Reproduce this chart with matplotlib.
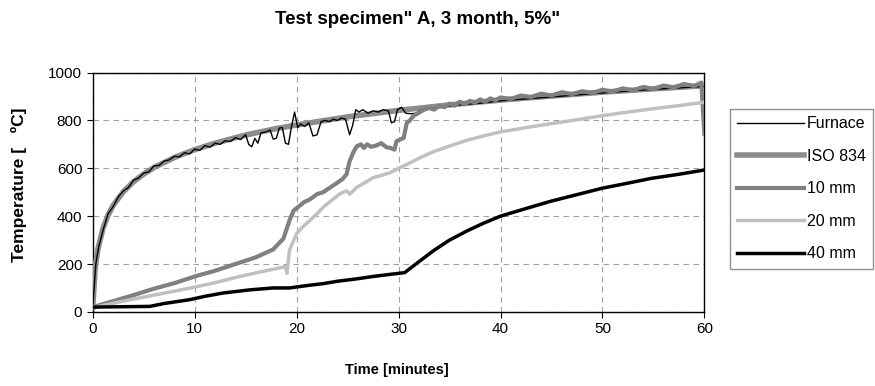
import numpy as np
import matplotlib
matplotlib.use("Agg")
import matplotlib.pyplot as plt

plt.rcParams['font.family'] = ['Liberation Sans', 'DejaVu Sans']

# ISO 834 standard curve
iso_t = [0, 0.25, 0.5, 1, 1.5, 2, 3, 4, 5, 6, 8, 10, 12, 15, 18, 20, 25, 30, 35, 40, 45, 50, 55, 60]
iso_T = [20, 190, 261, 349, 404, 445, 502, 544, 576, 603, 645, 678, 705, 739, 766, 781, 815, 842, 865, 885, 902, 918, 932, 945]

# furnace thermocouple
fur_t = [0, 0.3, 0.6, 1, 1.5, 2, 2.5, 3, 3.5, 4, 4.5, 5, 5.5, 6, 6.5, 7, 7.5, 8, 8.5, 9, 9.5,
         10, 10.5, 11, 11.5, 12, 12.5, 13, 13.5, 14, 14.5, 15, 15.3, 15.6, 15.9, 16.2, 16.5, 17,
         17.4, 17.7, 18, 18.3, 18.6, 18.9, 19.2, 19.5, 19.8, 20.1, 20.4, 20.8, 21.2, 21.6, 22,
         22.4, 22.8, 23.2, 23.6, 24, 24.4, 24.8, 25.2, 25.5, 25.8, 26.1, 26.5, 27, 27.5, 28, 28.5,
         29, 29.3, 29.6, 29.9, 30.3, 30.7, 31.2, 31.7, 32.2, 33, 34, 36, 38, 40, 45, 50, 55, 60]
fur_T = [20, 200, 275, 340, 410, 440, 480, 505, 520, 550, 560, 580, 585, 610, 612, 630, 635, 650, 648, 665, 660,
         680, 675, 695, 688, 705, 700, 715, 712, 728, 720, 740, 700, 690, 725, 705, 748, 752,
         760, 722, 725, 768, 770, 705, 700, 775, 835, 770, 785, 775, 790, 735, 740,
         795, 800, 795, 805, 800, 810, 805, 740, 780, 845, 835, 845, 830, 840, 835, 845,
         840, 790, 795, 845, 855, 830, 828, 830, 845, 848, 855, 865, 872, 882, 898, 915, 930, 942]

# 10 mm depth
t10 = [0, 2, 4, 6, 8, 10, 12, 14, 16, 17.7, 18.7, 19.3, 19.7, 20.2, 20.7, 21.3, 22, 22.6, 23.3, 24,
       24.5, 24.9, 25.2, 25.6, 25.9, 26.3, 26.6, 26.9, 27.3, 27.8, 28.3, 28.8, 29.2, 29.6, 29.8,
       30.5, 30.8, 31.1, 31.5, 32.1, 32.5, 33, 33.5, 34, 34.5, 35, 35.5, 36, 36.5, 37, 37.5, 38,
       38.5, 39, 39.5, 40, 41, 42, 43, 44, 45, 46, 47, 48, 49, 50, 51, 52, 53, 54, 55, 56, 57,
       58, 59, 59.7, 60]
T10 = [20, 45, 70, 97, 120, 148, 172, 200, 228, 261, 306, 382, 423, 440, 458, 470, 492, 500, 520, 540,
       555, 575, 630, 670, 692, 700, 685, 700, 690, 695, 705, 688, 685, 678, 713,
       727, 789, 800, 820, 835, 845, 852, 845, 862, 855, 870, 862, 878, 868, 882, 874, 888,
       878, 892, 884, 896, 890, 904, 898, 912, 904, 918, 910, 922, 915, 928, 921, 934, 926, 940, 932, 946, 938,
       952, 944, 958, 745]

# 20 mm depth
t20 = [0, 3, 6, 9.5, 12, 14.4, 17, 18.9, 19.05, 19.3, 20, 20.6, 21.3, 22, 22.6, 23.4, 24.2, 24.9, 25.2,
       25.9, 26.7, 27.5, 28.3, 29.2, 30, 30.8, 32.1, 33.4, 35, 36.7, 38.3, 40, 42.5, 44.9, 47.5, 50,
       52.5, 54.8, 57.5, 60]
T20 = [18, 45, 70, 99, 122, 148, 172, 189, 161, 258, 327, 355, 382, 410, 437, 465, 492, 506, 492,
       520, 540, 561, 570, 582, 600, 616, 644, 669, 693, 717, 735, 752, 770, 786, 803, 820,
       835, 848, 862, 876]

# 40 mm depth
t40 = [0, 5.6, 7, 9.5, 11, 12.8, 15.4, 17.7, 19.3, 21, 22.6, 24, 25.9, 27.5, 29.2, 30.6, 31.7, 33.4,
       35, 36.7, 38.3, 40, 42.5, 44.9, 47.5, 50, 52.5, 54.8, 57.5, 60]
T40 = [20, 23, 35, 51, 65, 79, 92, 100, 100, 110, 118, 128, 138, 148, 157, 164, 200, 255,
       300, 338, 370, 400, 432, 462, 490, 517, 538, 558, 575, 593]

fig = plt.figure(figsize=(8.75, 3.86), dpi=100)
ax = fig.add_axes([0.106, 0.192, 0.699, 0.620])

l_fur, = ax.plot(fur_t, fur_T, color='black', lw=1.0, zorder=3.5, label='Furnace')
l_iso, = ax.plot(iso_t, iso_T, color='#8c8c8c', lw=4.0, zorder=3, label='ISO 834')
l_10, = ax.plot(t10, T10, color='#808080', lw=3.0, zorder=4, label='10 mm')
l_20, = ax.plot(t20, T20, color='#c0c0c0', lw=2.5, zorder=4, label='20 mm')
l_40, = ax.plot(t40, T40, color='black', lw=2.5, zorder=5, label='40 mm')

ax.set_xlim(0, 60)
ax.set_ylim(0, 1000)
ax.set_xticks(range(0, 61, 10))
ax.set_yticks(range(0, 1001, 200))
ax.tick_params(direction='out', length=4, labelsize=11, colors='black')
ax.grid(True, color='#a0a0a0', linestyle=(0, (5, 4)), lw=0.8)
for s in ax.spines.values():
    s.set_color('black')
    s.set_linewidth(1.0)

fig.text(418 / 875, 1 - 20 / 386, 'Test specimen" A, 3 month, 5%"', ha='center', va='center',
         fontsize=13.5, fontweight='bold')
fig.text(397 / 875, 1 - 370 / 386, 'Time [minutes]', ha='center', va='center',
         fontsize=10.5, fontweight='bold')
fig.text(19 / 875, 1 - 185 / 386, 'Temperature [   ºC]', ha='center', va='center',
         fontsize=12.5, fontweight='bold', rotation=90)

leg = fig.legend(handles=[l_fur, l_iso, l_10, l_20, l_40], loc='upper left',
                 bbox_to_anchor=(730 / 875, 1 - 109 / 386), fontsize=11.5, frameon=True,
                 fancybox=False, handlelength=4.2, handletextpad=0.15, labelspacing=1.1,
                 borderpad=0.45, borderaxespad=0)
leg.get_frame().set_edgecolor('#777777')
leg.get_frame().set_linewidth(1.0)

fig.savefig('out.png', dpi=100)
